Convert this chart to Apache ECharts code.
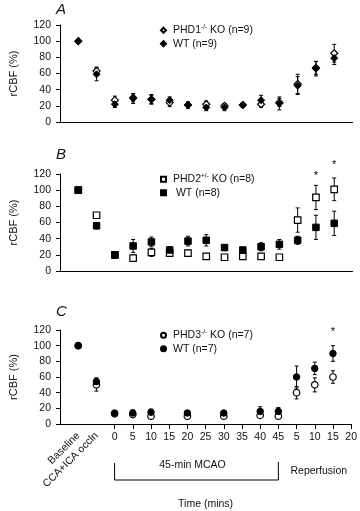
<!DOCTYPE html>
<html>
<head>
<meta charset="utf-8">
<script src="https://cdn.jsdelivr.net/npm/echarts@6/dist/echarts.min.js"></script>
<style>
html, body { margin: 0; padding: 0; background: #fff; }
#main { width: 360px; height: 511px; }
</style>
</head>
<body>
<div id="main"></div>
<script>
// slot 0 is empty, data start at slot 1 (Baseline)
var timeLabels = ['', 'Baseline', 'CCA+ICA occln', '0', '5', '10', '15', '20', '25', '30', '35', '40', '45', '5', '10', '15', '20'];

// rCBF (%) and error, Baseline .. reperfusion 15 min
var phd1Ko   = [100, 63, 27, 30, 28, 24, 21, 22, 20, 21, 22, 24, 47, 67, 85];
var phd1KoSe = [0, 5, 5, 5, 5, 5, 3, 4, 3, 3, 4, 5, 12, 8, 11];
var wtA      = [100, 59, 22, 29, 28, 27, 21, 18, 18, 21, 27, 23, 45, 66, 79];
var wtASe    = [0, 8, 4, 6, 6, 4, 4, 4, 4, 3, 6, 8, 11, 9, 8];

var phd2Ko   = [100, 69, 20, 16, 23, 22, 22, 18, 17, 18, 18, 17, 63, 91, 101];
var phd2KoSe = [0, 2, 4, 4, 5, 4, 4, 3, 3, 3, 3, 3, 15, 15, 14];
var wtB      = [100, 56, 20, 31, 36, 26, 37, 38, 29, 26, 30, 33, 38, 54, 59];
var wtBSe    = [0, 4, 4, 8, 6, 4, 6, 7, 3, 3, 5, 6, 5, 15, 15];

var phd3Ko   = [100, 50, 13, 12, 10, null, 10, null, 10, null, 11, 10, 40, 50, 60];
var phd3KoSe = [0, 8, 2, 2, 2, null, 2, null, 2, null, 2, 2, 8, 9, 8];
var wtC      = [100, 54, 14, 14, 15, null, 14, null, 14, null, 16, 16, 60, 71, 90];
var wtCSe    = [0, 5, 3, 4, 4, null, 3, null, 3, null, 6, 5, 14, 8, 10];

// significance stars (slot index, height)
var starSlotB = [14, 15];
var starValB  = [118, 131];
var starSlotC = [15];
var starValC  = [118];

var FONT = 'Liberation Sans, Arial, sans-serif';
var gridTops = [25, 174, 330];
var gridH = 97;

function pts(vals, errs) {
    var out = [];
    for (var i = 0; i < vals.length; i++) {
        if (vals[i] == null) continue;
        out.push([i + 1, vals[i], errs[i]]);
    }
    return out;
}

function renderErr(params, api) {
    var e = api.value(2);
    if (!e) return null;
    var hi = api.coord([api.value(0), api.value(1) + e]);
    var lo = api.coord([api.value(0), api.value(1) - e]);
    var x = hi[0], cap = 2;
    var st = { stroke: '#000', lineWidth: 1 };
    return {
        type: 'group',
        children: [
            { type: 'line', shape: { x1: x, y1: hi[1], x2: x, y2: lo[1] }, style: st },
            { type: 'line', shape: { x1: x - cap, y1: hi[1], x2: x + cap, y2: hi[1] }, style: st },
            { type: 'line', shape: { x1: x - cap, y1: lo[1], x2: x + cap, y2: lo[1] }, style: st }
        ]
    };
}

function renderStar(params, api) {
    var p = api.coord([api.value(0), api.value(1)]);
    return {
        type: 'text', x: p[0], y: p[1],
        style: { text: '*', fontSize: 11, fontFamily: FONT, fill: '#000', align: 'center', verticalAlign: 'middle' }
    };
}

function legendFmt(name) {
    var m = name.match(/^(PHD\d)(\S+)( KO.*)$/);
    if (m) return m[1] + '{s|' + m[2] + '}' + m[3];
    return name;
}

var panels = [
    { ko: 'PHD1-/- KO (n=9)', wt: 'WT (n=9)', symbol: 'diamond', size: 7, k: phd1Ko, ke: phd1KoSe, w: wtA, we: wtASe },
    { ko: 'PHD2+/- KO (n=8)', wt: ' WT (n=8)', symbol: 'rect', size: 6.5, k: phd2Ko, ke: phd2KoSe, w: wtB, we: wtBSe },
    { ko: 'PHD3-/- KO (n=7)', wt: 'WT (n=7)', symbol: 'circle', size: 6.5, k: phd3Ko, ke: phd3KoSe, w: wtC, we: wtCSe }
];

var grids = [], xAxes = [], yAxes = [], legends = [], series = [];

panels.forEach(function (p, i) {
    grids.push({ left: 60, width: 292.5, top: gridTops[i], height: gridH });
    var last = i === 2;
    xAxes.push({
        gridIndex: i, type: 'category', data: timeLabels, boundaryGap: false,
        axisLine: { lineStyle: { color: '#000', width: 1 } },
        axisTick: { show: last, interval: function (idx) { return idx >= 3; }, length: 5, lineStyle: { color: '#000' } },
        axisLabel: { show: last, interval: function (idx) { return idx >= 3; }, fontSize: 10.5, color: '#111', margin: 8 },
        name: last ? 'Time (mins)' : '', nameLocation: 'middle', nameGap: 75,
        nameTextStyle: { fontSize: 10.5, color: '#111' }
    });
    yAxes.push({
        gridIndex: i, type: 'value', min: 0, max: 120, interval: 20,
        name: 'rCBF (%)', nameLocation: 'middle', nameGap: 41,
        nameTextStyle: { fontSize: 11, color: '#111' },
        axisLine: { show: true, lineStyle: { color: '#000' } },
        axisTick: { show: true, length: 4, lineStyle: { color: '#000' } },
        axisLabel: { fontSize: 10.5, color: '#111', margin: 9 },
        splitLine: { show: false }
    });
    legends.push({
        orient: 'vertical', left: 160, top: gridTops[i] - 1.5, padding: 0,
        itemWidth: 5, itemHeight: 5, itemGap: 0,
        data: [p.ko, p.wt], formatter: legendFmt,
        textStyle: {
            fontSize: 10.5, color: '#111', lineHeight: 13.5, padding: [0, 0, 0, 2],
            rich: { s: { fontSize: 6.5, verticalAlign: 'top' } }
        }
    });
    series.push(
        { type: 'custom', name: 'errKo' + i, xAxisIndex: i, yAxisIndex: i, renderItem: renderErr, data: pts(p.k, p.ke), z: 1, silent: true },
        { type: 'custom', name: 'errWt' + i, xAxisIndex: i, yAxisIndex: i, renderItem: renderErr, data: pts(p.w, p.we), z: 1, silent: true },
        {
            type: 'scatter', name: p.ko, xAxisIndex: i, yAxisIndex: i, symbol: p.symbol, symbolSize: p.size,
            itemStyle: { color: '#fff', borderColor: '#000', borderWidth: 1.2, opacity: 1 },
            data: pts(p.k, p.ke), z: 2
        },
        {
            type: 'scatter', name: p.wt, xAxisIndex: i, yAxisIndex: i, symbol: p.symbol, symbolSize: p.size,
            itemStyle: { color: '#000', borderColor: '#000', borderWidth: 1, opacity: 1 },
            data: pts(p.w, p.we), z: 3
        }
    );
});

function starData(slots, vals) {
    return slots.map(function (s, j) { return [s, vals[j]]; });
}
series.push(
    { type: 'custom', name: 'starB', xAxisIndex: 1, yAxisIndex: 1, renderItem: renderStar, data: starData(starSlotB, starValB), z: 4, clip: false },
    { type: 'custom', name: 'starC', xAxisIndex: 2, yAxisIndex: 2, renderItem: renderStar, data: starData(starSlotC, starValC), z: 4, clip: false }
);

// overlay grid for the slanted Baseline / CCA+ICA labels of panel C
grids.push({ left: 60, width: 292.5, top: gridTops[2], height: gridH });
xAxes.push({
    gridIndex: 3, type: 'category', data: timeLabels, boundaryGap: false,
    axisLine: { show: false }, axisTick: { show: false },
    axisLabel: { interval: function (idx) { return idx === 1 || idx === 2; }, rotate: 45, fontSize: 10.5, color: '#111', margin: 7 }
});
yAxes.push({ gridIndex: 3, type: 'value', min: 0, max: 120, show: false });

var chart = echarts.init(document.getElementById('main'));
chart.setOption({
    animation: false,
    backgroundColor: '#fff',
    textStyle: { fontFamily: FONT },
    title: [
        { text: 'A', left: 56, top: 2, padding: 0, textStyle: { fontSize: 15, fontStyle: 'italic', fontWeight: 'normal', color: '#111' } },
        { text: 'B', left: 56, top: 147, padding: 0, textStyle: { fontSize: 15, fontStyle: 'italic', fontWeight: 'normal', color: '#111' } },
        { text: 'C', left: 56, top: 304, padding: 0, textStyle: { fontSize: 15, fontStyle: 'italic', fontWeight: 'normal', color: '#111' } }
    ],
    grid: grids,
    xAxis: xAxes,
    yAxis: yAxes,
    legend: legends,
    series: series
});

// bracket under the occlusion period, placed from the axis scale
var a = chart.convertToPixel({ gridIndex: 2 }, [3, 0]);
var b = chart.convertToPixel({ gridIndex: 2 }, [12, 0]);
var r = chart.convertToPixel({ gridIndex: 2 }, [14, 0]);
var axisY = a[1];
chart.setOption({
    graphic: [
        {
            type: 'polyline', silent: true,
            shape: { points: [[a[0], axisY + 39], [a[0], axisY + 56], [b[0], axisY + 56], [b[0], axisY + 38]] },
            style: { stroke: '#000', lineWidth: 1, fill: null }
        },
        {
            type: 'text', x: (a[0] + b[0]) / 2 - 4, y: axisY + 41, silent: true,
            style: { text: '45-min MCAO', font: '10.5px ' + FONT, fill: '#111', align: 'center', verticalAlign: 'middle' }
        },
        {
            type: 'text', x: r[0] + 4, y: axisY + 47, silent: true,
            style: { text: 'Reperfusion', font: '10.5px ' + FONT, fill: '#111', align: 'center', verticalAlign: 'middle' }
        }
    ]
});
</script>
</body>
</html>
